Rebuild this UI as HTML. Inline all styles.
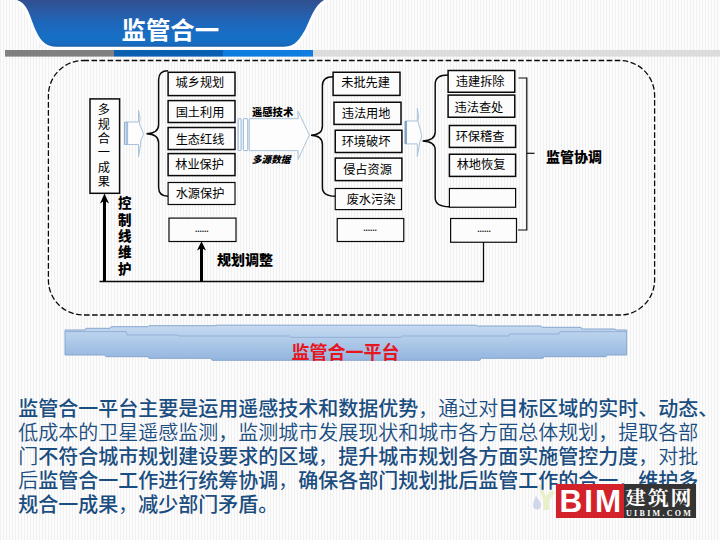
<!DOCTYPE html>
<html lang="zh-CN">
<head>
<meta charset="utf-8">
<title>监管合一</title>
<style>
html,body{margin:0;padding:0;}
body{width:720px;height:540px;overflow:hidden;position:relative;
  font-family:"Liberation Sans","Noto Sans CJK SC",sans-serif;
  background-color:#f8f8f8;
  background-image:repeating-linear-gradient(90deg,#f0f0f0 0,#f0f0f0 1px,#fcfcfc 1px,#fcfcfc 3px);
}
#art{position:absolute;left:0;top:0;width:720px;height:540px;}
.title{position:absolute;left:121.5px;top:13.8px;width:100px;height:34px;line-height:34px;
  font-size:24.4px;font-weight:bold;color:#fff;white-space:nowrap;transform:scaleY(1.0);transform-origin:50% 50%;}
.t{position:absolute;font-size:12.2px;font-weight:400;color:#000;text-align:center;white-space:nowrap;}
.dots{font-size:8.6px;font-weight:bold;color:#1a1a1a;letter-spacing:-0.1px;}
.vt{position:absolute;font-weight:900;color:#000;text-align:center;}
.lb{position:absolute;font-weight:900;color:#000;white-space:nowrap;}
.plat{position:absolute;left:285.6px;top:339.9px;width:120px;height:26px;line-height:26px;text-align:center;
  font-size:18px;font-weight:bold;color:#e8141e;white-space:nowrap;}
.para{position:absolute;left:18.3px;top:396.6px;width:701px;font-size:20px;line-height:24.1px;
  color:#1a4d80;white-space:nowrap;}
.para div{height:24.1px;}
.para{font-weight:350;}
.para .h{font-weight:500;}
.logo{position:absolute;left:556.3px;top:484.3px;width:140px;height:33.7px;}
.logo .r{position:absolute;left:0;top:0;width:68.2px;height:33.7px;background:#d4222a;color:#fff;
  font-weight:bold;font-size:31.4px;line-height:33.7px;text-align:center;letter-spacing:2px;text-indent:2px;padding-top:0.6px;box-sizing:border-box;}
.logo .k{position:absolute;left:68.2px;top:0;width:71.8px;height:33.7px;background:#343434;color:#fff;}
.logo .k .c{position:absolute;left:0;top:2.9px;width:71.8px;text-align:center;font-family:"Liberation Serif","Noto Serif CJK SC",serif;
  font-weight:bold;font-size:19px;line-height:24px;letter-spacing:1.6px;text-indent:1.6px;white-space:nowrap;transform:translateX(-1.7px) scaleX(1.105);transform-origin:50% 50%;}
.logo .k .u{position:absolute;left:0;top:24.4px;width:71.8px;text-align:center;font-family:"Liberation Serif",serif;
  font-weight:bold;font-size:8px;line-height:9px;letter-spacing:2.3px;text-indent:-1.5px;white-space:nowrap;}
.wm{position:absolute;opacity:.55;}
</style>
</head>
<body>
<svg id="art" width="720" height="540" viewBox="0 0 720 540">
  <defs>
    <linearGradient id="bn" x1="0" y1="0" x2="0" y2="1">
      <stop offset="0" stop-color="#30508f"/>
      <stop offset="0.25" stop-color="#2a5ba5"/>
      <stop offset="0.5" stop-color="#1d67bb"/>
      <stop offset="0.8" stop-color="#1670c6"/>
      <stop offset="0.93" stop-color="#176cc0"/>
      <stop offset="1" stop-color="#1b5fae"/>
    </linearGradient>
    <linearGradient id="pl" x1="0" y1="0" x2="0" y2="1">
      <stop offset="0" stop-color="#c6daf0"/>
      <stop offset="0.3" stop-color="#b6cfec"/>
      <stop offset="1" stop-color="#93b5de"/>
    </linearGradient>
    <filter id="glow" x="-5%" y="-20%" width="110%" height="140%"><feGaussianBlur stdDeviation="1.6"/></filter>
  </defs>
  <!-- banner glow -->
  <path d="M17 0 C29 4 30 19 37 33 C41.500 42 47 46.700 56 46.700 L284 46.700 C296 46.700 300 38 305 30 C311 18 314 6 324 0 Z" fill="#fff" stroke="#fff" stroke-width="5" filter="url(#glow)"/>
  <path d="M17 0 C29 4 30 19 37 33 C41.500 42 47 46.700 56 46.700 L284 46.700 C296 46.700 300 38 305 30 C311 18 314 6 324 0 Z" fill="url(#bn)"/>
  <!-- colour strip -->
  <rect x="313" y="50" width="407" height="6.600" fill="#dcdcdc"/>
  <rect x="5" y="50" width="109" height="6.600" fill="#808080"/>
  <rect x="114" y="50" width="109" height="6.600" fill="#0b5fb0"/>
  <rect x="223" y="50" width="90" height="6.600" fill="#0f7de0"/>
  <!-- dashed frame -->
  <rect x="48.400" y="60.500" width="606.200" height="254.500" rx="35" ry="35" fill="none" stroke="#0a0a0a" stroke-width="1.3" stroke-dasharray="5.600 2.450"/>
  <!-- platform bar -->
  <path d="M65 330 L85 330 L86 328.300 L110 328.300 L111 326.700 L148 326.700 L149 325.700 L215 325.700 L216 325.200 L476 325.200 L477 326 L541 326 L542 327.300 L581 327.300 L582 329 L615 329 L616 330 L626.700 330 L626.700 355 L607 355 L606 356.700 L544 356.700 L543 358.300 L481 358.300 L480 360.300 L212 360.300 L211 358.300 L149 358.300 L148 356.700 L106 356.700 L105 355 L65 355 Z" fill="url(#pl)" stroke="#86a6cf" stroke-width="1"/>
  <path d="M65 331.600 L126 331.600 L127 335 L178 335 L179 336 L289.700 336 L290.700 337.400 L401 337.400 L402 336 L509 336 L510 334 L559 334 L560 331.700 L626 331.700" fill="none" stroke="#8fadd3" stroke-width="0.900"/>
  <!-- faint watermark icon -->
  <path d="M536 495 C537 499 541 501 541 505 C541 508 539 509.500 537 509.500 C534.500 509.500 533 507.500 533 505 C533 501 535.500 499 536 495 Z" fill="#b4c1e0" opacity="0.600"/>
  <path d="M538 485 L542 485 L546 497 L551 490 L555 492 L549 501 L549 510 L543.500 510 L543.500 501 Z" fill="#e0edb8" opacity="0.700"/>
  <!-- boxes -->
  <g fill="#fcfcfc" stroke="#0a0a0a" stroke-width="1.500">
    <rect x="168.1" y="72.3" width="66.9" height="23.3"/>
<rect x="168.1" y="100.6" width="66.9" height="21.9"/>
<rect x="168.1" y="127.5" width="66.9" height="22.0"/>
<rect x="168.1" y="153.6" width="66.9" height="22.0"/>
<rect x="168.1" y="182.5" width="66.9" height="22.0" stroke-width="1.2"/>
<rect x="169" y="218.1" width="67" height="23.4" stroke-width="1.2"/>
<rect x="333.1" y="72.25" width="66.9" height="23.15"/>
<rect x="334" y="102.25" width="67" height="22.15"/>
<rect x="335.25" y="130.25" width="66.65" height="22.25"/>
<rect x="335.25" y="158.1" width="66.65" height="22.5"/>
<rect x="335.25" y="188.5" width="66.25" height="21.1" stroke-width="1.2"/>
<rect x="337.25" y="218.5" width="66.5" height="23.0" stroke-width="1.2"/>
<rect x="448.1" y="70.5" width="66.65" height="21.75"/>
<rect x="448.1" y="95.1" width="66.65" height="22.15"/>
<rect x="449.4" y="125.5" width="66.2" height="21.9"/>
<rect x="449.4" y="154.25" width="66.2" height="22.15"/>
<rect x="449.4" y="188.5" width="66.2" height="18.75" stroke-width="1.2"/>
<rect x="450.6" y="218.5" width="65.9" height="23.75" stroke-width="1.2"/>
<rect x="90" y="98.9" width="29.6" height="94.4"/>
  </g>
  <!-- diagram lines -->
  <g fill="none" stroke="#0a0a0a" stroke-width="1.450">
    <path d="M168.1 70.8 Q158.6 70.8 158.6 79.8 L158.6 124.80000000000001 Q158.6 133.3 146.5 133.8 Q158.6 134.3 158.6 142.8 L158.6 187.2 Q158.6 196.2 168.1 196.2"/>
    <path d="M333.1 76.8 Q322.4 76.8 322.4 85.8 L322.4 126.30000000000001 Q322.4 134.8 311 135.3 Q322.4 135.8 322.4 144.3 L322.4 187.2 Q322.4 196.2 335.2 196.2"/>
    <path d="M448.1 75 Q435.2 75 435.2 84 L435.2 132 Q435.2 140.5 422.6 141 Q435.2 141.5 435.2 150 L435.2 197.8 Q435.2 206.8 449.4 206.8"/>
    <path d="M518.500 78 L526.800 78 L526.800 230 L518 230" stroke-width="1.200"/>
    <path d="M526.800 153.300 L534.500 153.300" stroke-width="1.200"/>
    <path d="M99.500 281.500 L483.500 281.500 L483.500 242" stroke-width="1.300"/>
  </g>
  <g stroke="#000" stroke-width="3" fill="#000">
    <path d="M104.500 281.500 L104.500 200"/>
    <path d="M201.500 281.500 L201.500 247"/>
  </g>
  <path d="M104.500 193.500 L100 203.500 L104.500 200.800 L109 203.500 Z" fill="#000"/>
  <path d="M201.500 241.300 L197 250.500 L201.500 248 L206 250.500 Z" fill="#000"/>
  <!-- sketchy block arrows -->
  <g fill="#fdfdfd" stroke="#a9c3dc" stroke-width="1">
    <path d="M124.500 122 L138.500 122 L138.500 110 L140 118 L139.500 124 L142 130 L143.500 134.500 L141 140 L140 148 L138.500 157 L138.500 144.500 L124.500 144.500 Z"/>
    <path d="M249.300 118.700 L298.100 118.700 L298.100 111.300 L309.300 135 L298.100 159.400 L298.100 150.600 L249.300 150.600 Z"/>
    <rect x="238.100" y="118.700" width="3" height="31.900" rx="1" stroke="#8fb0d4"/>
    <rect x="243.300" y="118.700" width="4.500" height="31.900" rx="1" stroke="#8fb0d4"/>
    <path d="M405.500 121 L417.300 121 L417.300 108.300 L418.500 116 L418 122 L420.500 130 L421.700 137 L419.500 143 L418.500 150 L417.300 156.500 L417.300 143.900 L405.500 143.900 Z"/>
  </g>
  <g fill="none" stroke="#7f9fc6">
    <path d="M124.800 122 L124.800 144.500 M126.300 122 L126.300 144.500 M127.600 122 L127.600 144.500" stroke-width="0.800"/>
    <path d="M405.700 121 L405.700 143.900" stroke-width="2.400"/>
  </g>
</svg>
<div class="t" style="left:159.9px;top:73.4px;width:80px;height:20px;line-height:20px;">城乡规划</div>
<div class="t" style="left:160px;top:102.5px;width:80px;height:20px;line-height:20px;">国土利用</div>
<div class="t" style="left:160px;top:129.65px;width:80px;height:20px;line-height:20px;">生态红线</div>
<div class="t" style="left:159.6px;top:155.3px;width:80px;height:20px;line-height:20px;">林业保护</div>
<div class="t" style="left:160px;top:184.3px;width:80px;height:20px;line-height:20px;">水源保护</div>
<div class="t dots" style="left:181.8px;top:218.75px;width:40px;height:20px;line-height:20px;">......</div>
<div class="t" style="left:325.6px;top:73.4px;width:80px;height:20px;line-height:20px;">未批先建</div>
<div class="t" style="left:326.1px;top:104.0px;width:80px;height:20px;line-height:20px;">违法用地</div>
<div class="t" style="left:326px;top:132.15px;width:80px;height:20px;line-height:20px;">环境破坏</div>
<div class="t" style="left:327.5px;top:160.3px;width:80px;height:20px;line-height:20px;">侵占资源</div>
<div class="t" style="left:331px;top:189.5px;width:80px;height:20px;line-height:20px;">废水污染</div>
<div class="t dots" style="left:350px;top:218.1px;width:40px;height:20px;line-height:20px;">......</div>
<div class="t" style="left:440.2px;top:72.15px;width:80px;height:20px;line-height:20px;">违建拆除</div>
<div class="t" style="left:438.9px;top:97.6px;width:80px;height:20px;line-height:20px;">违法查处</div>
<div class="t" style="left:440px;top:127.0px;width:80px;height:20px;line-height:20px;">环保稽查</div>
<div class="t" style="left:441px;top:155.4px;width:80px;height:20px;line-height:20px;">林地恢复</div>
<div class="t dots" style="left:464px;top:218.75px;width:40px;height:20px;line-height:20px;">......</div>
<div class="t" style="left:89.3px;top:103.1px;width:29px;line-height:14.4px;white-space:normal;">多<br>规<br>合<br>一<br>成<br>果</div>
<div class="vt" style="left:116.8px;top:196.4px;width:16px;font-size:13.5px;line-height:16.3px;">控<br>制<br>线<br>维<br>护</div>
<div class="lb" style="left:217px;top:251.400px;font-size:14px;line-height:18px;">规划调整</div>
<div class="lb" style="left:252px;top:106px;font-size:10.3px;line-height:14px;">遥感技术</div>
<div class="lb" style="left:252px;top:153px;font-size:9.6px;line-height:14px;font-style:italic;">多源数据</div>
<div class="lb" style="left:546px;top:147px;font-size:14px;line-height:20px;">监管协调</div>
<div class="title">监管合一</div>
<div class="plat">监管合一平台</div>
<div class="para">
<div><span class="h">监管合一平台主要是运用遥感技术和数据优势</span>，通过对<span class="h">目标区域的实时、动态、</span></div>
<div>低成本的卫星遥感监测，监测城市发展现状和城市各方面总体规划，提取各部</div>
<div>门<span class="h">不符合城市规划建设要求的区域</span>，<span class="h">提升城市规划各方面实施管控力度</span>，对批</div>
<div>后<span class="h">监管合一工作进行统筹协调</span>，<span class="h">确保各部门规划批后监管工作的合一</span>，<span class="h">维护多</span></div>
<div><span class="h">规合一成果</span>，<span class="h">减少部门矛盾。</span></div>
</div>
<div class="logo"><div class="r">BIM</div><div class="k"><div class="c">建筑网</div><div class="u">UIBIM.COM</div></div></div>
</body>
</html>
